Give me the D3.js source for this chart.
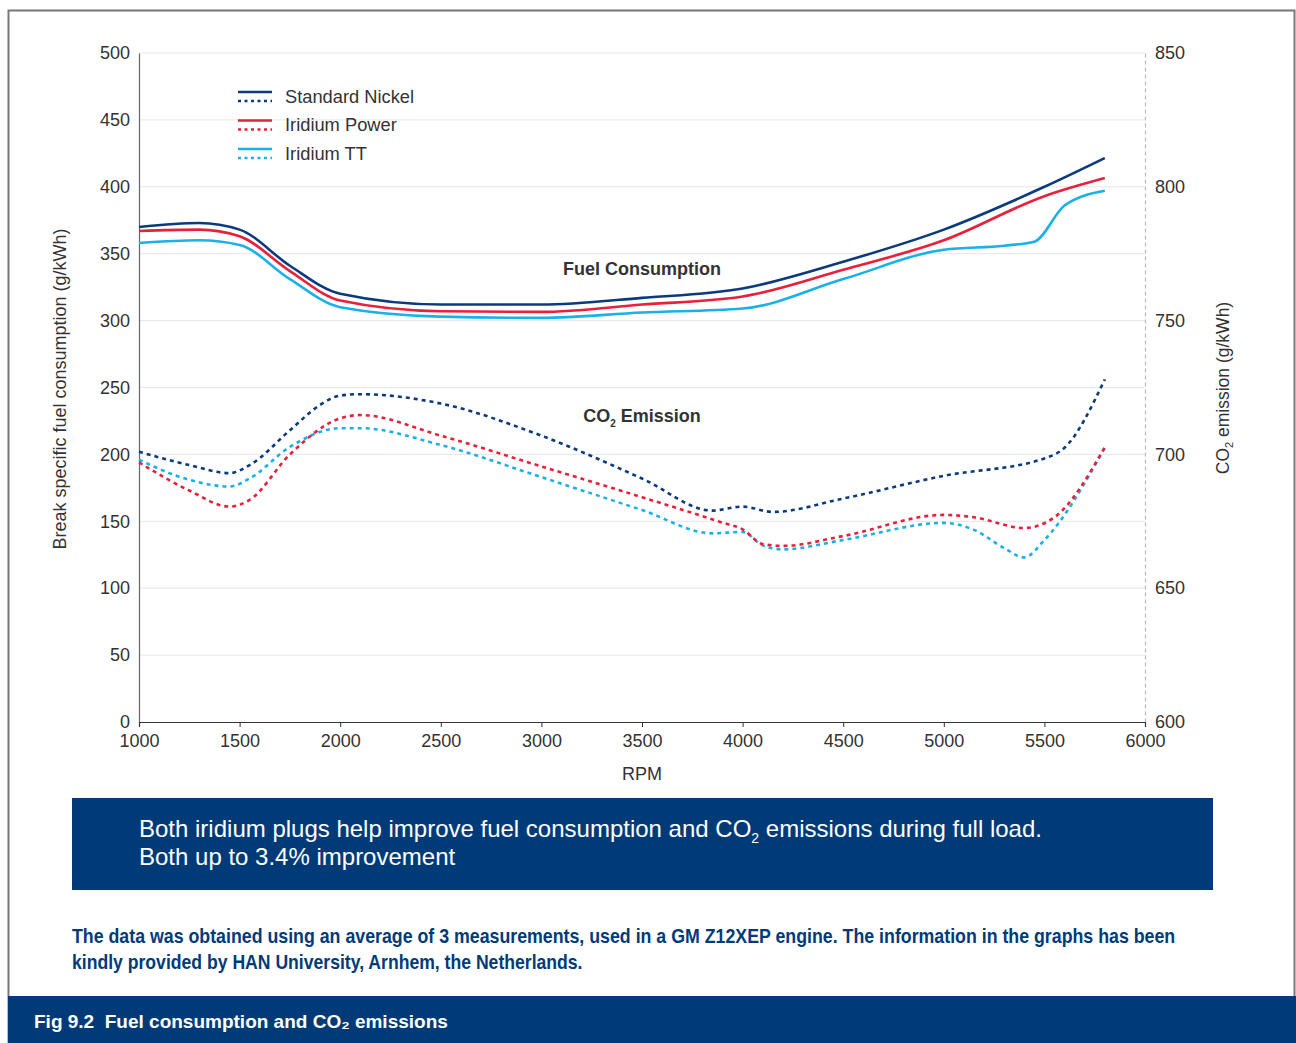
<!DOCTYPE html>
<html>
<head>
<meta charset="utf-8">
<script src="https://cdn.jsdelivr.net/npm/d3@7"></script>
<style>
  body { margin: 0; background: #fff; }
  svg text { font-family: "Liberation Sans", Arial, sans-serif; }
</style>
</head>
<body>
<svg id="chart" width="1296" height="1043"></svg>
<script>
// RPM sample points for each curve
const rpmFuel = [1000, 1300, 1500, 1750, 2000, 2500, 3000, 3500, 4000, 4500, 5000, 5500, 5800];
const rpmTTFuel = [1000, 1300, 1500, 1750, 2000, 2500, 3000, 3500, 4000, 4500, 5000, 5300, 5450, 5600, 5800];

// fuel consumption (g/kWh), left axis
const fuelNickel = [370, 373, 368, 341, 320, 312, 312, 317, 324, 344, 368, 400, 421.5];
const fuelPower  = [367, 368, 363, 337, 315, 307, 306.5, 312, 318, 338, 360, 393, 406.5];
const fuelTT     = [358, 360, 356.5, 331, 310, 303, 302, 306, 309, 331, 353, 356, 359, 386, 397];

// CO2 emission (g/kWh), right axis
const rpmCO2Nickel = [1000, 1250, 1450, 1550, 1750, 1900, 2000, 2100, 2500, 3000, 3500, 3850, 4000, 4150, 4500, 5000, 5500, 5600, 5800];
const co2Nickel    = [701, 696, 693, 696, 709, 718.5, 722, 722.5, 719, 707, 691, 679, 680.5, 678.5, 683.5, 692, 698.5, 702.5, 728];
const rpmCO2Power  = [1000, 1250, 1450, 1550, 1750, 2000, 2100, 2500, 3000, 3500, 3900, 4000, 4100, 4200, 4500, 5000, 5150, 5400, 5550, 5800];
const co2Power     = [697, 686.5, 680.5, 683, 700, 713.5, 714.7, 707, 695.5, 684, 674.5, 672, 666.5, 665.8, 669.5, 677.4, 676.5, 672.5, 676.5, 702.7];
const rpmCO2TT     = [1000, 1250, 1450, 1550, 1750, 2000, 2100, 2500, 3000, 3500, 3850, 4000, 4100, 4200, 4500, 5000, 5150, 5300, 5400, 5500, 5800];
const co2TT        = [698, 690.5, 688, 691, 702.8, 709.8, 709.8, 703.5, 691.5, 679.2, 670.5, 671, 666, 664.5, 668, 674.4, 671.8, 665, 661.5, 668, 702.4];

const xTicks = [1000, 1500, 2000, 2500, 3000, 3500, 4000, 4500, 5000, 5500, 6000];
const leftTicks = [0, 50, 100, 150, 200, 250, 300, 350, 400, 450, 500];
const rightTicks = [600, 650, 700, 750, 800, 850];
const seriesNames = ["Standard Nickel", "Iridium Power", "Iridium TT"];
const colors = ["#0b3b7c", "#e8203b", "#1ab0ea"];

const navy = "#003b78";
const svg = d3.select("#chart");

// outer frame
svg.append("rect").attr("x", 8.5).attr("y", 10.5).attr("width", 1286).attr("height", 1040)
  .attr("fill", "none").attr("stroke", "#777").attr("stroke-width", 2);

const plotLeft = 139, plotRight = 1145, plotTop = 53, plotBottom = 722;
const x = d3.scaleLinear().domain([1000, 6000]).range([plotLeft, plotRight]);
const yL = d3.scaleLinear().domain([0, 500]).range([plotBottom, plotTop]);
const yR = d3.scaleLinear().domain([600, 850]).range([plotBottom, plotTop]);

// gridlines
svg.append("g").selectAll("line").data(leftTicks.filter(d => d > 0)).enter().append("line")
  .attr("x1", plotLeft).attr("x2", plotRight)
  .attr("y1", d => yL(d)).attr("y2", d => yL(d))
  .attr("stroke", "#e6e6e6").attr("stroke-width", 1);

// left axis
const gL = svg.append("g").attr("transform", `translate(${plotLeft},0)`)
  .call(d3.axisLeft(yL).tickValues(leftTicks).tickSize(0).tickPadding(9));
gL.select(".domain").attr("stroke", "#666").attr("stroke-width", 1.2);
gL.selectAll("text").attr("font-size", 18).attr("fill", "#333")
  .attr("font-family", "Liberation Sans, Arial, sans-serif");

// right axis
const gR = svg.append("g").attr("transform", `translate(${plotRight},0)`)
  .call(d3.axisRight(yR).tickValues(rightTicks).tickSize(0).tickPadding(10));
gR.select(".domain").attr("stroke", "#bbb").attr("stroke-dasharray", "4,3").attr("stroke-width", 1.2);
gR.selectAll("text").attr("font-size", 18).attr("fill", "#333")
  .attr("font-family", "Liberation Sans, Arial, sans-serif");

// bottom axis
const gX = svg.append("g").attr("transform", `translate(0,${plotBottom})`)
  .call(d3.axisBottom(x).tickValues(xTicks).tickFormat(d3.format("d")).tickSize(5).tickSizeOuter(5).tickPadding(7));
gX.select(".domain").attr("stroke", "#333").attr("stroke-width", 1.2);
gX.selectAll(".tick line").attr("stroke", "#333");
gX.selectAll("text").attr("font-size", 18).attr("fill", "#333")
  .attr("font-family", "Liberation Sans, Arial, sans-serif");

// axis titles
svg.append("text").attr("transform", "translate(66,389) rotate(-90)")
  .attr("text-anchor", "middle").attr("font-size", 18).attr("fill", "#333")
  .text("Break specific fuel consumption (g/kWh)");

const rt = svg.append("text").attr("transform", "translate(1229,388) rotate(-90)")
  .attr("text-anchor", "middle").attr("font-size", 17.5).attr("fill", "#333");
rt.append("tspan").text("CO");
rt.append("tspan").attr("font-size", 11).attr("dy", 4).text("2");
rt.append("tspan").attr("dy", -4).text(" emission (g/kWh)");

svg.append("text").attr("x", 642).attr("y", 780).attr("text-anchor", "middle")
  .attr("font-size", 18).attr("fill", "#333").text("RPM");

// lines
const line = (xs, ys, yScale) => d3.line()
  .x((d, i) => x(xs[i])).y(d => yScale(d))
  .curve(d3.curveMonotoneX)(ys);

const fuelSets = [[rpmFuel, fuelNickel], [rpmFuel, fuelPower], [rpmTTFuel, fuelTT]];
const co2Sets = [[rpmCO2Nickel, co2Nickel], [rpmCO2Power, co2Power], [rpmCO2TT, co2TT]];

[2, 1, 0].forEach(i => {
  svg.append("path").attr("d", line(co2Sets[i][0], co2Sets[i][1], yR))
    .attr("fill", "none").attr("stroke", colors[i]).attr("stroke-width", 2.6)
    .attr("stroke-dasharray", "4,4");
});
[2, 1, 0].forEach(i => {
  svg.append("path").attr("d", line(fuelSets[i][0], fuelSets[i][1], yL))
    .attr("fill", "none").attr("stroke", colors[i]).attr("stroke-width", 2.6);
});

// legend
const lg = svg.append("g").attr("transform", "translate(238,92)");
seriesNames.forEach((name, i) => {
  const g = lg.append("g").attr("transform", `translate(0,${i * 28.5})`);
  g.append("line").attr("x1", 0).attr("x2", 34).attr("y1", 0).attr("y2", 0)
    .attr("stroke", colors[i]).attr("stroke-width", 2.4);
  g.append("line").attr("x1", 0).attr("x2", 34).attr("y1", 9).attr("y2", 9)
    .attr("stroke", colors[i]).attr("stroke-width", 2.4).attr("stroke-dasharray", "3,3.5");
  g.append("text").attr("x", 47).attr("y", 10.5).attr("font-size", 18.3).attr("fill", "#333").text(name);
});

// annotations
svg.append("text").attr("x", 642).attr("y", 275).attr("text-anchor", "middle")
  .attr("font-size", 18).attr("font-weight", "bold").attr("fill", "#333").text("Fuel Consumption");
const co2t = svg.append("text").attr("x", 642).attr("y", 422).attr("text-anchor", "middle")
  .attr("font-size", 18).attr("font-weight", "bold").attr("fill", "#333");
co2t.append("tspan").text("CO");
co2t.append("tspan").attr("font-size", 10).attr("dy", 5).text("2");
co2t.append("tspan").attr("dy", -5).text(" Emission");

// message box
svg.append("rect").attr("x", 72).attr("y", 798).attr("width", 1141).attr("height", 92).attr("fill", navy);
const m1 = svg.append("text").attr("x", 139).attr("y", 837).attr("font-size", 24).attr("fill", "#fff");
m1.append("tspan").text("Both iridium plugs help improve fuel consumption and CO");
m1.append("tspan").attr("font-size", 14).attr("dy", 6).text("2");
m1.append("tspan").attr("dy", -6).text(" emissions during full load.");
svg.append("text").attr("x", 139).attr("y", 865).attr("font-size", 24).attr("fill", "#fff")
  .text("Both up to 3.4% improvement");

// footnote (condensed bold look: squeeze horizontally to the reference width)
const fn = ["The data was obtained using an average of 3 measurements, used in a GM Z12XEP engine. The information in the graphs has been",
  "kindly provided by HAN University, Arnhem, the Netherlands."];
const fnWidths = [1104, 511];
fn.forEach((t, i) => {
  const g = svg.append("g");
  const tx = g.append("text").attr("x", 0).attr("y", 0)
    .attr("font-size", 20).attr("font-weight", "bold").attr("fill", navy).text(t);
  const sx = fnWidths[i] / tx.node().getComputedTextLength();
  g.attr("transform", `translate(72,${943 + i * 26}) scale(${sx},1)`);
});

// footer band
svg.append("rect").attr("x", 8).attr("y", 996).attr("width", 1288).attr("height", 47).attr("fill", navy);
svg.append("text").attr("x", 34).attr("y", 1028).attr("font-size", 19).attr("font-weight", "bold")
  .style("white-space", "pre").attr("fill", "#fff").text("Fig 9.2  Fuel consumption and CO₂ emissions");
</script>
</body>
</html>
